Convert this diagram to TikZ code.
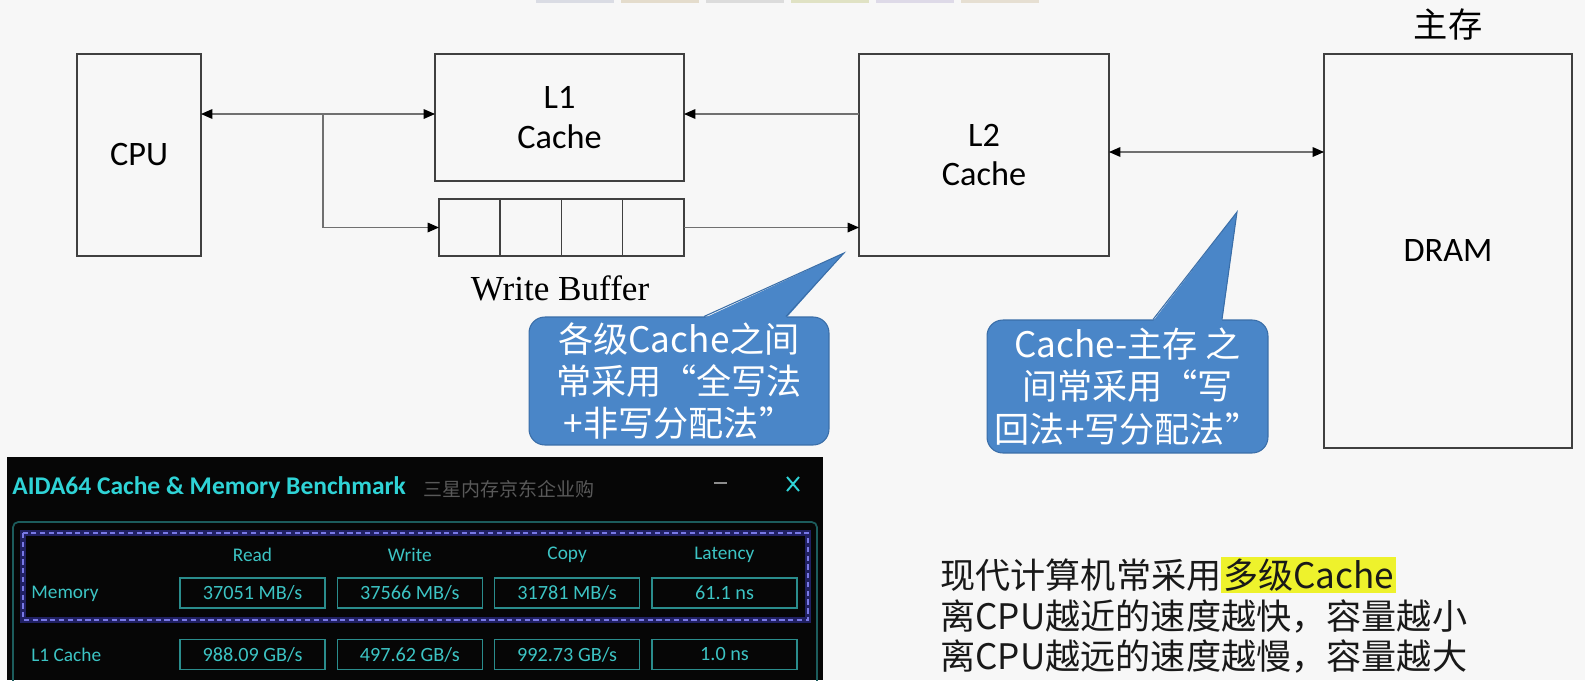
\documentclass[tikz,border=0pt]{standalone}
\usepackage{fontspec}
\usepackage{xcolor}
\setmainfont{Carlito}
\newfontfamily\zh{Noto Sans CJK SC}
\newfontfamily\tms{Liberation Serif}
\usetikzlibrary{arrows.meta,positioning}
\definecolor{slide}{HTML}{F7F7F7}
\definecolor{boxline}{HTML}{404040}
\definecolor{wire}{HTML}{707070}
\definecolor{callout}{HTML}{4A86C8}
\definecolor{calloutline}{HTML}{3A6EA8}
\definecolor{hl}{HTML}{EEF22C}
\definecolor{panel}{HTML}{060606}
\definecolor{aidacyan}{HTML}{2FD3D6}
\definecolor{celltext}{HTML}{3CC4C4}
\definecolor{cellline}{HTML}{2A8C8C}
\definecolor{frame}{HTML}{1C5C5C}
\definecolor{dashcol}{HTML}{7878E6}
\definecolor{glow}{HTML}{2C2C8A}
\definecolor{tabA}{HTML}{DADCE4}
\definecolor{tabB}{HTML}{E4DCCC}
\definecolor{tabC}{HTML}{DCDCDC}
\definecolor{tabD}{HTML}{E0E2C4}
\definecolor{tabE}{HTML}{DEDAE8}
\definecolor{tabF}{HTML}{E6DFD2}
\setlength{\fboxsep}{1pt}

\begin{document}
\begin{tikzpicture}[x=0.02cm,y=-0.02cm,font=\fontsize{19.5}{22.5}\selectfont,
  box/.style={draw=boxline,line width=0.9pt,align=center,inner sep=0pt,outer sep=0pt},
  arr/.style={draw=wire,line width=0.7pt,-{Triangle[length=6.5pt,width=5.5pt,color=black]}},
  darr/.style={draw=wire,line width=0.7pt,{Triangle[length=6.5pt,width=5.5pt,color=black]}-{Triangle[length=6.5pt,width=5.5pt,color=black]}},
  bubble/.style={fill=callout,draw=calloutline,line width=0.6pt,rounded corners=9pt,text=white,align=center,inner sep=0pt,font=\zh\fontsize{20}{24}\selectfont},
  cell/.style={draw=cellline,line width=0.8pt,minimum width=2.9cm,minimum height=0.6cm,inner sep=0pt,text=celltext,font=\fontsize{11.5}{13}\selectfont},
  hdr/.style={text=celltext,inner sep=0pt,font=\fontsize{11}{13}\selectfont}]
\useasboundingbox (0,0) rectangle (1585,680);
\fill[slide] (0,0) rectangle (1585,680);
\foreach \x/\c in {536/tabA,621/tabB,706/tabC,791/tabD,876/tabE,961/tabF}
  \fill[\c] (\x,0) rectangle ++(78,2.5);
\node[box,minimum width=2.48cm,minimum height=4.04cm] (cpu) at (139,155) {CPU};
\node[box,minimum width=4.98cm,minimum height=2.54cm] (l1) at (559.5,117.5) {L1\\Cache};
\node[box,minimum width=1.225cm,minimum height=1.14cm] (wb1) at (469.6,227.5) {};
\node[box,minimum width=1.225cm,minimum height=1.14cm,right=0pt of wb1] (wb2) {};
\node[box,minimum width=1.225cm,minimum height=1.14cm,right=0pt of wb2] (wb3) {};
\node[box,minimum width=1.225cm,minimum height=1.14cm,right=0pt of wb3] (wb4) {};
\node[font=\tms\fontsize{20}{22}\selectfont,inner sep=0pt] (wblab) at (560,288) {Write Buffer};
\node[box,minimum width=5.0cm,minimum height=4.04cm] (l2) at (984,155) {L2\\Cache};
\node[box,minimum width=4.96cm,minimum height=7.88cm] (dram) at (1448,251) {DRAM};
\node[font=\zh\fontsize{19.5}{22}\selectfont,inner sep=0pt] (mainmem) at (1448,24) {主存};
\coordinate (tapx) at (323,0);
\coordinate (tap) at ([yshift=0.07cm]l1.west -| tapx);
\draw[darr] ([yshift=0.07cm]l1.west -| cpu.east) -- ([yshift=0.07cm]l1.west);
\draw[arr] (tap) |- (wb1.west);
\draw[arr] ([yshift=0.07cm]l2.west |- l1.east) -- ([yshift=0.07cm]l1.east);
\draw[arr] (wb4.east) -- (wb4.east -| l2.west);
\draw[darr] ([yshift=0.06cm]l2.east) -- ([yshift=0.06cm]l2.east -| dram.west);
\node[bubble,minimum width=6.0cm,minimum height=2.56cm] (tipa) at (679,381) {各级Cache之间\\常采用“全写法\\+非写分配法”};
\coordinate (tipapt) at (844,253);
\fill[callout] ([xshift=0.5cm,yshift=-1pt]tipa.north) -- (tipapt) -- ([xshift=2.14cm,yshift=-1pt]tipa.north) -- cycle;
\draw[calloutline,line width=0.6pt] ([xshift=0.5cm]tipa.north) -- (tipapt) -- ([xshift=2.14cm]tipa.north);
\node[bubble,minimum width=5.62cm,minimum height=2.66cm] (tipb) at (1127.5,386.5) {Cache-主存 之\\间常采用“写\\回法+写分配法”};
\coordinate (tipbpt) at (1237,212);
\fill[callout] ([xshift=0.51cm,yshift=-1pt]tipb.north) -- (tipbpt) -- ([xshift=1.89cm,yshift=-1pt]tipb.north) -- cycle;
\draw[calloutline,line width=0.6pt] ([xshift=0.51cm]tipb.north) -- (tipbpt) -- ([xshift=1.89cm]tipb.north);
\node[anchor=north west,align=left,inner sep=0pt,text=black!90,font=\zh\fontsize{20}{23}\selectfont] (note) at (940,557) {现代计算机常采用\colorbox{hl}{多级Cache}\\离CPU越近的速度越快，容量越小\\离CPU越远的速度越慢，容量越大};
\fill[panel] (7,457) rectangle (823,680);
\node[anchor=west,inner sep=0pt,text=aidacyan,font=\bfseries\fontsize{14.5}{16}\selectfont] (title) at (12,488) {AIDA64 Cache \& Memory Benchmark};
\node[anchor=west,inner sep=0pt,text=black!65,font=\zh\fontsize{10.8}{12}\selectfont] (shop) at (423,489) {三星内存京东企业购};
\draw[black!45,line width=1.4pt] (714,483) -- (727,483);
\draw[aidacyan,line width=1.1pt] (787,477) -- (799,491) (787,491) -- (799,477);
\draw[frame,line width=1pt,rounded corners=3pt] (13,682) -- (13,522) -- (817,522) -- (817,682);
\draw[glow,line width=3pt,opacity=0.7] (23,533) rectangle (808,620);
\draw[dashcol,line width=0.8pt,densely dashed] (23,533) rectangle (808,620);
\foreach \h [count=\i from 0] in {Read,Write,Copy,Latency}
  \node[hdr] (h\i) at (252.5+157.3*\i,555) {\h};
\node[hdr,anchor=west] (memlab) at (31,594) {Memory};
\node[hdr,anchor=west] (l1lab) at (31,655) {L1 Cache};
\foreach \v [count=\i from 0] in {37051,37566,31781}
  \node[cell] (mem\i) at (252.5+157.3*\i,593) {\v~MB/s};
\node[cell] (mem3) at (724.5,593) {61.1 ns};
\foreach \v [count=\i from 0] in {988.09,497.62,992.73}
  \node[cell] (lone\i) at (252.5+157.3*\i,654.5) {\v~GB/s};
\node[cell] (lone3) at (724.5,654.5) {1.0 ns};
\end{tikzpicture}
\end{document}
